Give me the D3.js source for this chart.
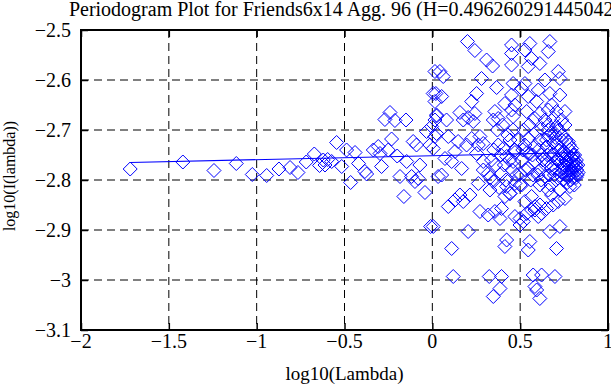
<!DOCTYPE html>
<html>
<head>
<meta charset="utf-8">
<script src="https://cdn.jsdelivr.net/npm/d3@7"></script>
<style>
  body { margin: 0; background: #fff; }
  svg text { font-family: "Liberation Serif", "Times New Roman", Times, "DejaVu Serif", serif; fill: #000; }
  .grid line { stroke: #000; stroke-width: 1; stroke-dasharray: 8,5; }
  .tick-label { font-size: 20px; }
</style>
</head>
<body>
<svg id="chart" width="611" height="385"></svg>
<script>
// title and axis labels
const titleText = "Periodogram Plot for Friends6x14 Agg. 96 (H=0.496260291445042)";
const xLabel = "log10(Lambda)";
const yLabel = "log10(I(lambda))";

// ticks
const xTicks = [-2, -1.5, -1, -0.5, 0, 0.5, 1];
const xTickLabels = ["\u22122", "\u22121.5", "\u22121", "\u22120.5", "0", "0.5", "1"];
const yTicks = [-3.1, -3, -2.9, -2.8, -2.7, -2.6, -2.5];
const yTickLabels = ["\u22123.1", "\u22123", "\u22122.9", "\u22122.8", "\u22122.7", "\u22122.6", "\u22122.5"];

// periodogram points
const ptX = [
  -1.72, -1.42, -1.243, -1.116, -1.025, -0.943, -0.873, -0.81, -0.765, -0.718,
  -0.672, -0.642, -0.621, -0.611, -0.596, -0.573, -0.545, -0.516, -0.488, -0.465,
  -0.44, -0.42, -0.384, -0.374, -0.336, -0.308, -0.298, -0.289, -0.27, -0.251,
  -0.241, -0.232, -0.213, -0.2, -0.184, -0.162, -0.15, -0.146, -0.118, -0.109,
  -0.099, -0.09, -0.08, -0.071, -0.042, -0.033, -0.014, -0.01, -0.004, 0.005,
  0.005, 0.015, 0.015, 0.015, 0.02, 0.024, 0.024, 0.033, 0.015, 0.024,
  // 0 .. 0.5
  0.043, 0.062, 0.053, 0.081, 0.091, 0.072, 0.11, 0.129, 0.147, 0.157,
  0.167, 0.176, 0.053, 0.129, 0.157, 0.091, 0.214, 0.176, 0.11, 0.204,
  0.119, 0.005, 0.2, 0.242, 0.309, 0.343, 0.28, 0.252, 0.224, 0.204,
  0.242, 0.233, 0.224, 0.271, 0.29, 0.262, 0.195, 0.252, 0.29, 0.29,
  0.318, 0.262, 0.328, 0.271, 0.318, 0.356, 0.324, 0.347, 0.385, 0.366,
  0.356, 0.375, 0.347, 0.337, 0.375, 0.404, 0.394, 0.347, 0.394, 0.385,
  0.394, 0.413, 0.423, 0.413, 0.423, 0.442, 0.413, 0.442, 0.451, 0.451,
  0.451, 0.46, 0.451, 0.47, 0.451, 0.46, 0.442, 0.423, 0.46, 0.47,
  0.47, 0.47, 0.33, 0.35, 0.36, 0.37, 0.38, 0.39, 0.4, 0.41,
  0.42, 0.43, 0.44, 0.455, 0.46, 0.47, 0.48, 0.49, 0.5, 0.515,
  0.52, 0.53, 0.54, 0.55, 0.56, 0.57, 0.59, 0.6, 0.605, 0.62,
  0.63, 0.645, 0.655, 0.665, 0.675, 0.68, 0.69, 0.695, 0.7, 0.705,
  0.71, 0.65, 0.66, 0.68, 0.69, 0.7, 0.72, 0.74, 0.76, 0.78,
  // 0.5 .. right edge
  0.669, 0.555, 0.527, 0.66, 0.565, 0.612, 0.546, 0.717, 0.726, 0.527,
  0.641, 0.603, 0.669, 0.726, 0.546, 0.508, 0.594, 0.679, 0.537, 0.612,
  0.66, 0.707, 0.755, 0.584, 0.641, 0.688, 0.736, 0.66, 0.707, 0.755,
  0.622, 0.698, 0.546, 0.612, 0.66, 0.736, 0.774, 0.527, 0.584, 0.65,
  0.707, 0.793, 0.555, 0.622, 0.679, 0.736, 0.802, 0.508, 0.584, 0.65,
  0.717, 0.764, 0.812, 0.546, 0.612, 0.679, 0.745, 0.793, 0.821, 0.499,
  0.574, 0.641, 0.726, 0.774, 0.508, 0.565, 0.612, 0.679, 0.717, 0.755,
  0.688, 0.66, 0.726, 0.783, 0.584, 0.622, 0.65, 0.603, 0.499, 0.499,
  0.669, 0.726, 0.555, 0.546, 0.707, 0.574, 0.622, 0.698, 0.584, 0.594,
  0.612, 0.537, 0.527, 0.518, 0.565, 0.584, 0.613,
  // dense clump at the right end
  0.72, 0.73, 0.735, 0.74, 0.745, 0.75, 0.752, 0.758, 0.76, 0.765,
  0.768, 0.77, 0.773, 0.776, 0.78, 0.782, 0.785, 0.788, 0.79, 0.792,
  0.795, 0.798, 0.8, 0.803, 0.805, 0.808, 0.81, 0.812, 0.815, 0.818,
  0.82, 0.822, 0.825, 0.828, 0.83
];
const ptY = [
  -2.778, -2.764, -2.781, -2.767, -2.789, -2.791, -2.778, -2.775, -2.785, -2.764,
  -2.748, -2.771, -2.76, -2.77, -2.759, -2.763, -2.725, -2.773, -2.74, -2.805,
  -2.745, -2.767, -2.783, -2.788, -2.74, -2.733, -2.747, -2.773, -2.679, -2.74,
  -2.665, -2.718, -2.681, -2.752, -2.793, -2.833, -2.68, -2.763, -2.793, -2.723,
  -2.803, -2.73, -2.797, -2.77, -2.825, -2.703, -2.73, -2.893, -2.693, -2.627,
  -2.737, -2.643, -2.68, -2.583, -2.627, -2.67, -2.707, -2.793, -2.713, -2.672,
  // 0 .. 0.5
  -2.583, -2.593, -2.633, -2.68, -2.713, -2.757, -2.763, -2.743, -2.723, -2.665,
  -2.777, -2.68, -2.79, -2.84, -2.83, -2.853, -2.83, -2.843, -2.937, -2.903,
  -2.993, -2.893, -2.523, -2.541, -2.56, -2.572, -2.597, -2.627, -2.643, -2.675,
  -2.667, -2.683, -2.717, -2.713, -2.727, -2.73, -2.73, -2.747, -2.763, -2.78,
  -2.787, -2.807, -2.82, -2.863, -2.87, -2.863, -2.993, -2.803, -2.877, -2.615,
  -2.663, -2.677, -2.68, -2.76, -2.73, -2.737, -2.787, -3.033, -2.857, -3.017,
  -2.993, -2.647, -2.753, -2.833, -2.813, -2.72, -2.933, -2.827, -2.53, -2.547,
  -2.57, -2.607, -2.63, -2.65, -2.66, -2.673, -2.827, -2.92, -2.763, -2.807,
  -2.873, -2.74, -2.795, -2.74, -2.77, -2.7, -2.815, -2.75, -2.69, -2.77,
  -2.8, -2.71, -2.76, -2.78, -2.7, -2.745, -2.79, -2.72, -2.81, -2.74,
  -2.7, -2.78, -2.745, -2.69, -2.8, -2.75, -2.705, -2.79, -2.74, -2.8,
  -2.76, -2.77, -2.75, -2.79, -2.81, -2.77, -2.75, -2.79, -2.78, -2.8,
  -2.76, -2.72, -2.7, -2.705, -2.725, -2.715, -2.7, -2.71, -2.72, -2.73,
  // 0.5 .. right edge
  -2.523, -2.527, -2.54, -2.543, -2.557, -2.567, -2.573, -2.583, -2.597, -2.607,
  -2.6, -2.62, -2.627, -2.63, -2.633, -2.617, -2.643, -2.65, -2.663, -2.667,
  -2.66, -2.663, -2.663, -2.677, -2.68, -2.677, -2.68, -2.69, -2.693, -2.69,
  -2.697, -2.707, -2.717, -2.72, -2.713, -2.72, -2.723, -2.73, -2.733, -2.733,
  -2.73, -2.737, -2.747, -2.75, -2.743, -2.747, -2.75, -2.76, -2.763, -2.76,
  -2.76, -2.763, -2.763, -2.777, -2.78, -2.777, -2.777, -2.78, -2.773, -2.787,
  -2.79, -2.793, -2.79, -2.793, -2.81, -2.833, -2.81, -2.83, -2.843, -2.837,
  -2.85, -2.82, -2.82, -2.813, -2.86, -2.867, -2.857, -2.873, -2.877, -2.89,
  -2.903, -2.893, -2.923, -2.94, -2.937, -2.99, -2.99, -2.993, -3.013, -3.02,
  -3.037, -2.867, -2.843, -2.883, -2.86, -2.853, -2.85,
  // dense clump at the right end
  -2.74, -2.765, -2.785, -2.755, -2.8, -2.77, -2.745, -2.79, -2.76, -2.78,
  -2.805, -2.75, -2.77, -2.79, -2.76, -2.74, -2.78, -2.8, -2.765, -2.755,
  -2.785, -2.77, -2.795, -2.76, -2.775, -2.81, -2.75, -2.785, -2.77, -2.795,
  -2.76, -2.78, -2.79, -2.77, -2.785
];

// least-squares fit line endpoints
const fitX = [-1.72, 0.83];
const fitY = [-2.765, -2.745];

const svg = d3.select("#chart");
const margin = {left: 81, top: 30, right: 3, bottom: 55};
const width = 611 - margin.left - margin.right;
const height = 385 - margin.top - margin.bottom;

const x = d3.scaleLinear().domain([-2, 1]).range([margin.left, margin.left + width]);
const y = d3.scaleLinear().domain([-3.1, -2.5]).range([margin.top + height, margin.top]);

const plot = svg.append("g");

// dashed grid (inner lines only)
const grid = plot.append("g").attr("class", "grid");
grid.selectAll(".gx")
  .data(xTicks.slice(1, -1))
  .join("line")
  .attr("x1", d => x(d)).attr("x2", d => x(d))
  .attr("y1", y(-2.5)).attr("y2", y(-3.1));
grid.selectAll(".gy")
  .data(yTicks.slice(1, -1))
  .join("line")
  .attr("y1", d => y(d)).attr("y2", d => y(d))
  .attr("x1", x(-2)).attr("x2", x(1));

// points
const pts = ptX.map((v, i) => ({x: v, y: ptY[i]}));
const s = 7;
plot.append("g")
  .selectAll("path")
  .data(pts)
  .join("path")
  .attr("d", d => {
    const cx = x(d.x), cy = y(d.y);
    return `M${cx},${cy - s}L${cx + s},${cy}L${cx},${cy + s}L${cx - s},${cy}Z`;
  })
  .attr("fill", "none")
  .attr("stroke", "#0000ff")
  .attr("stroke-width", 1);

// fit line
const line = d3.line().x(d => x(d[0])).y(d => y(d[1]));
plot.append("path")
  .datum(fitX.map((v, i) => [v, fitY[i]]))
  .attr("d", line)
  .attr("fill", "none")
  .attr("stroke", "#0000ff")
  .attr("stroke-width", 1.2);

// axes with inward ticks on all four sides
const tickLen = 7;
const xb = d3.axisBottom(x).tickValues(xTicks).tickSizeInner(-tickLen).tickSizeOuter(0).tickFormat("");
const xt = d3.axisTop(x).tickValues(xTicks).tickSizeInner(-tickLen).tickSizeOuter(0).tickFormat("");
const yl = d3.axisLeft(y).tickValues(yTicks).tickSizeInner(-tickLen).tickSizeOuter(0).tickFormat("");
const yr = d3.axisRight(y).tickValues(yTicks).tickSizeInner(-tickLen).tickSizeOuter(0).tickFormat("");

function styleAxis(g) {
  g.select(".domain").remove();
  g.selectAll(".tick line").attr("stroke", "#000").attr("stroke-width", 1.5);
}
plot.append("g").attr("transform", `translate(0,${y(-3.1)})`).call(xb).call(styleAxis);
plot.append("g").attr("transform", `translate(0,${y(-2.5)})`).call(xt).call(styleAxis);
plot.append("g").attr("transform", `translate(${x(-2)},0)`).call(yl).call(styleAxis);
plot.append("g").attr("transform", `translate(${x(1)},0)`).call(yr).call(styleAxis);

// frame
plot.append("rect")
  .attr("x", x(-2)).attr("y", y(-2.5))
  .attr("width", x(1) - x(-2)).attr("height", y(-3.1) - y(-2.5))
  .attr("fill", "none").attr("stroke", "#000").attr("stroke-width", 2);

// tick labels
svg.append("g").selectAll("text")
  .data(xTicks)
  .join("text")
  .attr("class", "tick-label")
  .attr("x", d => x(d))
  .attr("y", y(-3.1) + 18)
  .attr("text-anchor", "middle")
  .text((d, i) => xTickLabels[i]);

svg.append("g").selectAll("text")
  .data(yTicks)
  .join("text")
  .attr("class", "tick-label")
  .attr("x", x(-2) - 10)
  .attr("y", d => y(d) + 7)
  .attr("text-anchor", "end")
  .text((d, i) => yTickLabels[i]);

// title and axis labels
svg.append("text")
  .attr("x", (x(-2) + x(1)) / 2)
  .attr("y", 16)
  .attr("text-anchor", "middle")
  .style("font-size", "20px")
  .text(titleText);

svg.append("text")
  .attr("x", (x(-2) + x(1)) / 2)
  .attr("y", 380)
  .attr("text-anchor", "middle")
  .style("font-size", "19px")
  .text(xLabel);

svg.append("text")
  .attr("transform", `translate(15,${(y(-2.5) + y(-3.1)) / 2 - 4}) rotate(-90)`)
  .attr("text-anchor", "middle")
  .style("font-size", "16px")
  .text(yLabel);
</script>
</body>
</html>
